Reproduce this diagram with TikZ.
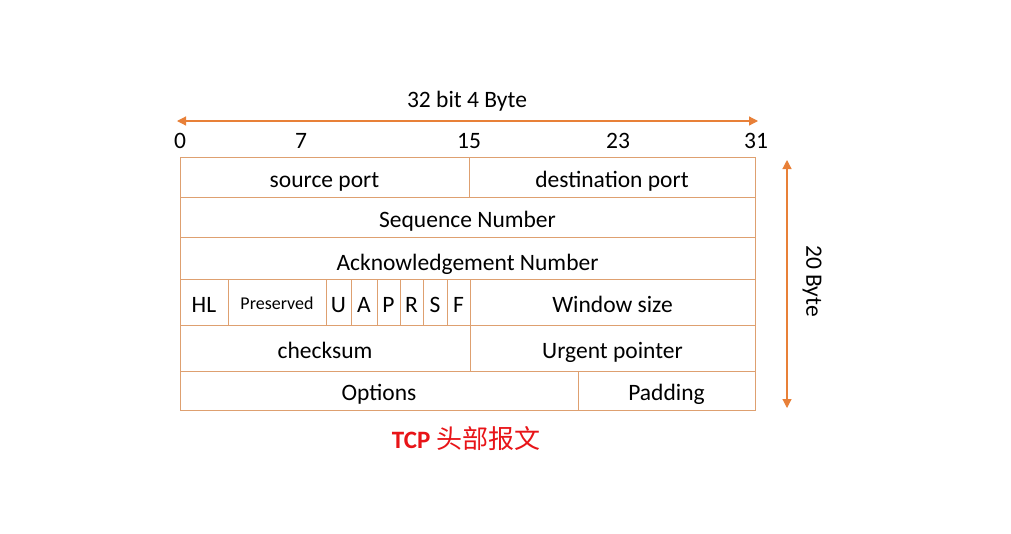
\documentclass[tikz,border=0pt]{standalone}
\usepackage{fontspec}
\setmainfont{Carlito}
\newfontfamily\cjk{Noto Sans CJK SC}
\usetikzlibrary{arrows.meta}
\definecolor{tabc}{RGB}{222,160,112}
\definecolor{arrc}{RGB}{232,128,56}
\definecolor{titc}{RGB}{232,20,24}
\tikzset{
  cell/.style={draw=tabc, line width=1pt, inner sep=0pt, text height=22pt, text depth=2pt, font=\fontsize{23.5}{25}\selectfont},
  arr/.style={draw=arrc, line width=1.2pt, {Triangle[length=9pt,width=9pt]}-{Triangle[length=9pt,width=9pt]}},
  lab/.style={inner sep=0pt, anchor=base, font=\fontsize{23.5}{25}\selectfont},
}
\newcommand\mkcell[7][]{\node[cell, #1, minimum width={(#5-#3)*1pt}, minimum height={(#6-#4)*1pt}] (#2) at ({(#3+#5)/2},{(#4+#6)/2}) {#7};}
\begin{document}
\begin{tikzpicture}[x=1pt,y=-1pt]
\useasboundingbox[fill=white] (0,0) rectangle (1011,533);
\mkcell{src}{180}{157}{469}{197}{source port}
\mkcell{dst}{469}{157}{755}{197}{destination port}
\mkcell{seq}{180}{197}{755}{237}{Sequence Number}
\mkcell[text height=26pt]{ack}{180}{237}{755}{279}{Acknowledgement Number}
\mkcell{hl}{180}{279}{228}{325}{HL}
\mkcell[text height=17pt]{pres}{228}{279}{326}{325}{\fontsize{18}{20}\selectfont Preserved}
\mkcell{u}{326}{279}{351}{325}{U}
\mkcell{a}{351}{279}{377}{325}{A}
\mkcell{p}{377}{279}{400}{325}{P}
\mkcell{r}{400}{279}{423}{325}{R}
\mkcell{s}{423}{279}{447}{325}{S}
\mkcell{f}{447}{279}{470}{325}{F}
\mkcell{win}{470}{279}{755}{325}{Window size}
\mkcell{chk}{180}{325}{470}{371}{checksum}
\mkcell{urg}{470}{325}{755}{371}{Urgent pointer}
\mkcell{opt}{180}{371}{578}{410}{Options}
\mkcell{pad}{578}{371}{755}{410}{Padding}
% top scale
\node[lab] (bits) at (467,107) {32 bit 4 Byte};
\coordinate (tl) at (177,121);
\coordinate (tr) at (758,121);
\draw[arr] (tl) -- (tr);
\node[lab] (n0) at (180,148) {0};
\node[lab] (n7) at (301,148) {7};
\node[lab] (n15) at (469,148) {15};
\node[lab] (n23) at (618,148) {23};
\node[lab] (n31) at (756,148) {31};
% right scale
\coordinate (rt) at (787,160);
\coordinate (rb) at (787,408);
\draw[arr] (rt) -- (rb);
\node[lab, rotate=-90, anchor=center] (bytes) at (812,281) {20 Byte};
% title
\node[inner sep=0pt, anchor=base, text=titc, font=\fontsize{25}{27}\selectfont] (title) at (466,448) {\bfseries TCP {\cjk\mdseries\fontsize{26}{28}\selectfont 头部报文}};
\end{tikzpicture}
\end{document}
